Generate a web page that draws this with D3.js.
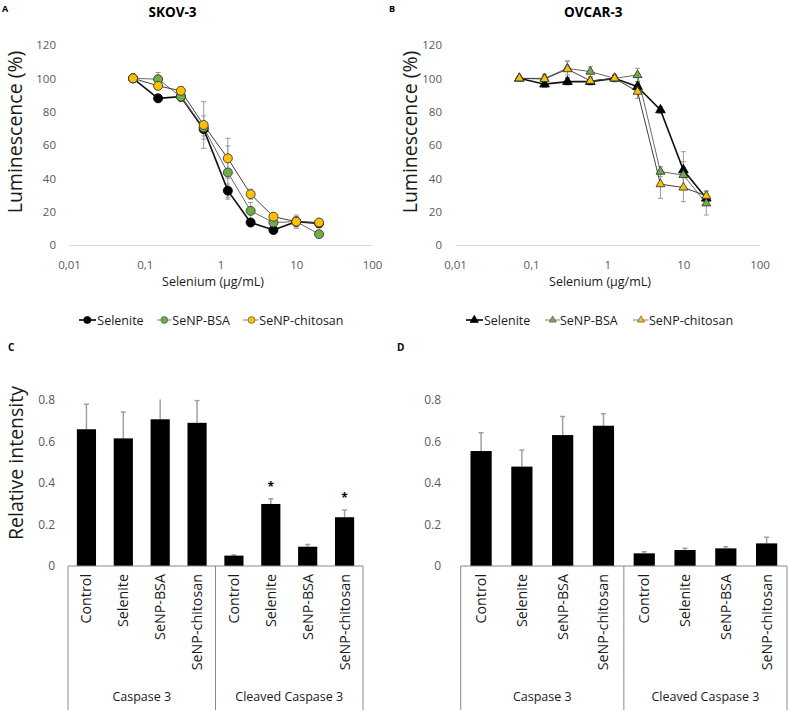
<!DOCTYPE html>
<html><head><meta charset="utf-8">
<script src="https://cdn.jsdelivr.net/npm/d3@7"></script>
<style>
body{margin:0;background:#fff;}
svg{display:block;font-family:"Open Sans",sans-serif;}
</style></head>
<body>
<svg id="chart" width="790" height="710"></svg>
<script>
// ---------- DATA ----------
const concentrations = [0.07, 0.15, 0.3, 0.6, 1.25, 2.5, 5, 10, 20];
const xTickValues = [0.01, 0.1, 1, 10, 100];
const xTickLabels = ["0,01", "0,1", "1", "10", "100"];
const yTickValues = [0, 20, 40, 60, 80, 100, 120];
const seriesNames = ["Selenite", "SeNP-BSA", "SeNP-chitosan"];

const skovSelenite = [100, 88, 89, 69.5, 32.6, 13.5, 9, 14, 13];
const skovSeleniteErr = [0, 1, 2, 4, 4, 2, 1.5, 3, 2];
const skovBSA = [100, 99.5, 89, 70.5, 43.5, 20.5, 13.5, 14, 6.5];
const skovBSAErr = [0, 4, 3, 7, 16, 5, 3, 3, 2];
const skovChitosan = [100, 95.5, 92.5, 72, 52, 30.5, 17, 14, 13.5];
const skovChitosanErr = [0, 2, 2, 14, 12, 3, 2, 4, 2];

const ovSelenite = [100, 96.5, 98, 98, 100, 95, 81, 45, 28];
const ovSeleniteErr = [1, 2, 2, 2, 2, 3, 2, 11, 3];
const ovBSA = [100, 100, 106, 104, 100, 102, 44, 42, 25];
const ovBSAErr = [1, 2, 4, 3, 2, 4, 3, 8, 7];
const ovChitosan = [100, 99.6, 105.5, 98.5, 100, 92, 36.5, 34.5, 29.5];
const ovChitosanErr = [1, 3, 5, 2, 2, 4, 8.5, 8.5, 3];

const groups = ["Caspase 3", "Cleaved Caspase 3"];
const treatments = ["Control", "Selenite", "SeNP-BSA", "SeNP-chitosan"];
const barTickValues = [0, 0.2, 0.4, 0.6, 0.8];
const barTickLabels = ["0", "0.2", "0.4", "0.6", "0.8"];

const skovCaspase = [0.659, 0.615, 0.707, 0.690];
const skovCaspaseErr = [0.12, 0.127, 0.13, 0.108];
const skovCleaved = [0.05, 0.299, 0.093, 0.235];
const skovCleavedErr = [0.003, 0.025, 0.011, 0.035];
const skovStars = ["", "", "", "", "", "*", "", "*"];

const ovCaspase = [0.554, 0.479, 0.631, 0.676];
const ovCaspaseErr = [0.088, 0.08, 0.089, 0.058];
const ovCleaved = [0.061, 0.077, 0.085, 0.109];
const ovCleavedErr = [0.008, 0.008, 0.008, 0.029];
const ovStars = ["", "", "", "", "", "", "", ""];

// ---------- DRAW ----------
const svg = d3.select("#chart");
const tickColor = "#595959";

const seriesStyle = [
  {fill: "#000000", stroke: "#000000", line: "#111111", lw: 1.6},
  {fill: "#70ad47", stroke: "#3a3a3a", line: "#6a6a6a", lw: 1},
  {fill: "#ffc000", stroke: "#3a3a3a", line: "#3f3f3f", lw: 1}
];

function linePanel(cfg) {
  const x = d3.scaleLog().domain([0.01, 100]).range([cfg.x0, cfg.x1]);
  const y = d3.scaleLinear().domain([0, 120]).range([245, 45]);
  const g = svg.append("g");

  const xAxis = d3.axisBottom(x).tickValues(xTickValues).tickSize(0)
    .tickFormat((d, i) => xTickLabels[i]);
  const xg = g.append("g").attr("transform", "translate(0,245)").call(xAxis);
  xg.select(".domain").attr("stroke", "#d9d9d9").attr("stroke-width", 1);
  xg.selectAll("text").attr("fill", tickColor).attr("font-size", 11.5)
    .attr("font-family", "Open Sans").attr("dy", 0).attr("y", 23.5);

  const yAxis = d3.axisLeft(y).tickValues(yTickValues).tickSize(0).tickPadding(0);
  const yg = g.append("g").attr("transform", `translate(${cfg.x0 - 13},0)`).call(yAxis);
  yg.select(".domain").remove();
  yg.selectAll("text").attr("fill", tickColor).attr("font-size", 11.5)
    .attr("font-family", "Open Sans");

  const series = cfg.series;
  series.forEach((s, si) => {
    const eg = g.append("g").attr("stroke", "#9a9a9a").attr("stroke-width", 1);
    concentrations.forEach((c, i) => {
      const e = s.err[i];
      if (!e) return;
      const cx = x(c), yt = y(s.vals[i] + e), yb = y(s.vals[i] - e);
      eg.append("line").attr("x1", cx).attr("x2", cx).attr("y1", yt).attr("y2", yb);
      eg.append("line").attr("x1", cx - 2.5).attr("x2", cx + 2.5).attr("y1", yt).attr("y2", yt);
      eg.append("line").attr("x1", cx - 2.5).attr("x2", cx + 2.5).attr("y1", yb).attr("y2", yb);
    });
  });
  const lineGen = d3.line().x(d => x(d[0])).y(d => y(d[1]));
  series.forEach((s, si) => {
    const st = seriesStyle[si];
    const pts = concentrations.map((c, i) => [c, s.vals[i]]);
    g.append("path").attr("d", lineGen(pts)).attr("fill", "none")
      .attr("stroke", st.line).attr("stroke-width", st.lw);
  });
  series.forEach((s, si) => {
    const st = seriesStyle[si];
    const pts = concentrations.map((c, i) => [c, s.vals[i]]);
    if (cfg.symbol === "circle") {
      g.selectAll(null).data(pts).join("circle")
        .attr("cx", d => x(d[0])).attr("cy", d => y(d[1])).attr("r", 4.5)
        .attr("fill", st.fill).attr("stroke", st.stroke).attr("stroke-width", 0.9);
    } else {
      const sym = d3.symbol().type(d3.symbolTriangle).size(si === 0 ? 40 : 34);
      g.selectAll(null).data(pts).join("path")
        .attr("d", sym)
        .attr("transform", d => `translate(${x(d[0])},${y(d[1])})`)
        .attr("fill", st.fill).attr("stroke", st.stroke).attr("stroke-width", 0.9);
    }
  });

  g.append("text").attr("x", cfg.titleX).attr("y", 17).attr("text-anchor", "middle")
    .attr("font-weight", "bold").attr("font-size", 13.5).text(cfg.title);
  g.append("text").attr("x", cfg.letterX).attr("y", 12).attr("font-weight", "bold")
    .attr("font-size", 9).text(cfg.letter);
  g.append("text").attr("transform", `translate(${cfg.yTitleX},132) rotate(-90)`)
    .attr("text-anchor", "middle").attr("font-size", 19.5).attr("fill", "#1a1a1a")
    .text("Luminescence (%)");
  g.append("text").attr("x", cfg.xTitleX).attr("y", 285.5).attr("text-anchor", "middle")
    .attr("font-size", 12.5).attr("fill", "#1a1a1a").text("Selenium (µg/mL)");

  const lg = g.append("g");
  cfg.legend.forEach((L, si) => {
    const st = seriesStyle[si];
    lg.append("line").attr("x1", L.l0).attr("x2", L.l1).attr("y1", 320).attr("y2", 320)
      .attr("stroke", si === 0 ? "#000" : "#7f7f7f").attr("stroke-width", si === 0 ? 1.6 : 1);
    if (cfg.symbol === "circle") {
      lg.append("circle").attr("cx", L.m).attr("cy", 320).attr("r", si === 0 ? 3.6 : 3.4)
        .attr("fill", st.fill).attr("stroke", si === 0 ? "#000" : "#555").attr("stroke-width", 0.7);
    } else {
      lg.append("path").attr("d", d3.symbol().type(d3.symbolTriangle).size(si === 0 ? 30 : 22))
        .attr("transform", `translate(${L.m},320)`)
        .attr("fill", st.fill).attr("stroke", si === 0 ? "#000" : "#555").attr("stroke-width", 0.7);
    }
    lg.append("text").attr("x", L.t).attr("y", 324.5).attr("font-size", 12.5)
      .attr("fill", "#1a1a1a").text(seriesNames[si]);
  });
}

linePanel({
  x0: 69, x1: 372, symbol: "circle", title: "SKOV-3", titleX: 172.5, letter: "A", letterX: 2,
  yTitleX: 21.5, xTitleX: 213,
  series: [
    {vals: skovSelenite, err: skovSeleniteErr},
    {vals: skovBSA, err: skovBSAErr},
    {vals: skovChitosan, err: skovChitosanErr}
  ],
  legend: [{l0: 79, l1: 96, m: 87.3, t: 97.3}, {l0: 157, l1: 171.5, m: 164.3, t: 172.3}, {l0: 243, l1: 258.5, m: 251.5, t: 259.3}]
});
linePanel({
  x0: 455, x1: 759.5, symbol: "triangle", title: "OVCAR-3", titleX: 593.3, letter: "B", letterX: 389,
  yTitleX: 416.5, xTitleX: 600,
  series: [
    {vals: ovSelenite, err: ovSeleniteErr},
    {vals: ovBSA, err: ovBSAErr},
    {vals: ovChitosan, err: ovChitosanErr}
  ],
  legend: [{l0: 466, l1: 483, m: 474.3, t: 484}, {l0: 545, l1: 560, m: 552.7, t: 560}, {l0: 633, l1: 648.5, m: 641, t: 649}]
});

function barPanel(cfg) {
  const keys = [];
  groups.forEach(gn => treatments.forEach(t => keys.push(gn + "|" + t)));
  const vals = cfg.caspase.concat(cfg.cleaved);
  const errs = cfg.caspaseErr.concat(cfg.cleavedErr);
  const x = d3.scaleBand().domain(keys).range([cfg.x0, cfg.x1]).paddingInner(0.48).paddingOuter(0.24);
  const y = d3.scaleLinear().domain([0, 0.8]).range([566, 400]);
  const g = svg.append("g");
  const clipId = "clip" + cfg.letter;
  g.append("clipPath").attr("id", clipId).append("rect")
    .attr("x", cfg.x0 - 5).attr("y", y(0.8) - 0.5).attr("width", cfg.x1 - cfg.x0 + 10).attr("height", 200);

  const yAxis = d3.axisLeft(y).tickValues(barTickValues).tickSize(0).tickPadding(0)
    .tickFormat((d, i) => barTickLabels[i]);
  const yg = g.append("g").attr("transform", `translate(${cfg.yLabX},0)`).call(yAxis);
  yg.select(".domain").remove();
  yg.selectAll("text").attr("fill", tickColor).attr("font-size", 12).attr("font-family", "Open Sans");

  const eg = g.append("g").attr("clip-path", `url(#${clipId})`).attr("stroke", "#a0a0a0").attr("stroke-width", 1.5);
  keys.forEach((k, i) => {
    const cx = x(k) + x.bandwidth() / 2;
    const yt = y(vals[i] + errs[i]);
    eg.append("line").attr("x1", cx).attr("x2", cx).attr("y1", y(vals[i])).attr("y2", yt);
    eg.append("line").attr("x1", cx - 2.5).attr("x2", cx + 2.5).attr("y1", yt).attr("y2", yt);
  });
  g.selectAll(null).data(keys).join("rect")
    .attr("x", d => x(d)).attr("width", x.bandwidth())
    .attr("y", (d, i) => y(vals[i])).attr("height", (d, i) => y(0) - y(vals[i]))
    .attr("fill", "#000");
  keys.forEach((k, i) => {
    if (!cfg.stars[i]) return;
    g.append("text").attr("x", x(k) + x.bandwidth() / 2).attr("y", y(vals[i] + errs[i]) - 8)
      .attr("text-anchor", "middle").attr("font-size", 12).attr("font-weight", "bold").text(cfg.stars[i]);
  });

  const ag = g.append("g").attr("stroke", "#8a8a8a").attr("stroke-width", 1).attr("fill", "none");
  ag.append("line").attr("x1", cfg.x0).attr("x2", cfg.x1).attr("y1", 566).attr("y2", 566);
  const mid = x(keys[4]) - x.step() * x.paddingInner() / 2;
  [cfg.x0, mid, cfg.x1].forEach(xx => ag.append("line").attr("x1", xx).attr("x2", xx).attr("y1", 566).attr("y2", 710));

  keys.forEach((k, i) => {
    const cx = x(k) + x.bandwidth() / 2;
    g.append("text").attr("transform", `translate(${cx + 5},574) rotate(-90)`)
      .attr("text-anchor", "end").attr("font-size", 14.3).attr("fill", "#1a1a1a")
      .text(k.split("|")[1]);
  });
  g.append("text").attr("x", (cfg.x0 + mid) / 2).attr("y", 701).attr("text-anchor", "middle")
    .attr("font-size", 12.5).attr("fill", "#1a1a1a").text(groups[0]);
  g.append("text").attr("x", (mid + cfg.x1) / 2).attr("y", 701).attr("text-anchor", "middle")
    .attr("font-size", 12.5).attr("fill", "#1a1a1a").text(groups[1]);

  g.append("text").attr("x", cfg.letterX).attr("y", 351).attr("font-weight", "bold")
    .attr("font-size", 10).text(cfg.letter);
  if (cfg.yTitle) {
    g.append("text").attr("transform", `translate(23,463) rotate(-90)`)
      .attr("text-anchor", "middle").attr("font-size", 19.5).attr("fill", "#1a1a1a").text(cfg.yTitle);
  }
}

barPanel({
  x0: 68, x1: 363, yLabX: 55, letter: "C", letterX: 8, yTitle: "Relative intensity",
  caspase: skovCaspase, caspaseErr: skovCaspaseErr, cleaved: skovCleaved, cleavedErr: skovCleavedErr, stars: skovStars
});
barPanel({
  x0: 460.7, x1: 787, yLabX: 441, letter: "D", letterX: 397, yTitle: null,
  caspase: ovCaspase, caspaseErr: ovCaspaseErr, cleaved: ovCleaved, cleavedErr: ovCleavedErr, stars: ovStars
});
</script>
</body></html>
